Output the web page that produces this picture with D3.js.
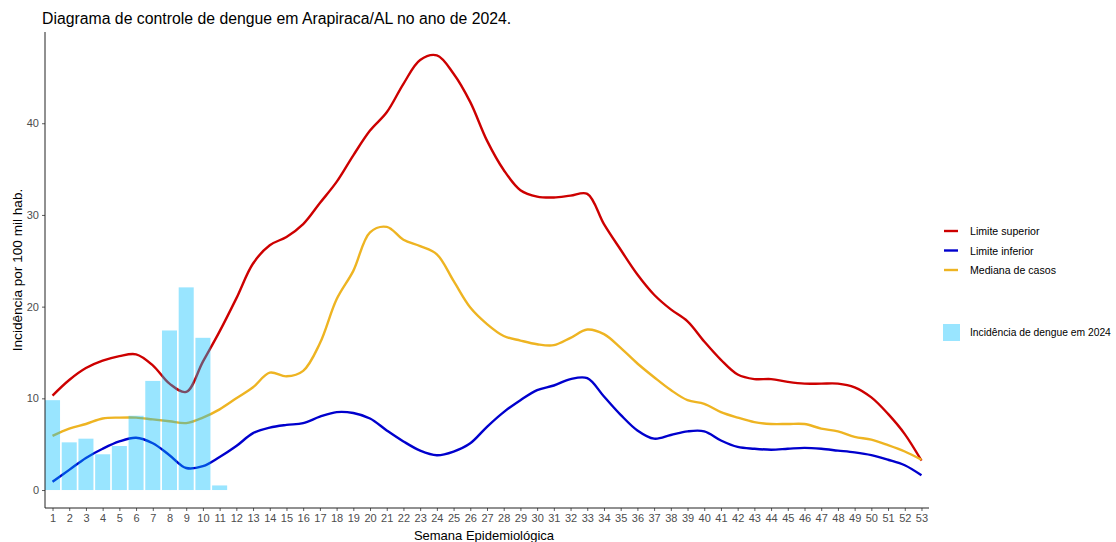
<!DOCTYPE html>
<html><head><meta charset="utf-8">
<script src="https://cdn.jsdelivr.net/npm/d3@7"></script>
<style>
body{margin:0;background:#fff;}
svg{font-family:"Liberation Sans",Arial,sans-serif;}
</style></head>
<body><svg id="c" width="1116" height="542"></svg>
<script>
const weeks = d3.range(1, 54);
const incidence2024 = [9.8,5.2,5.6,3.9,4.8,8.1,11.9,17.4,22.1,16.6,0.5];
const limiteSuperior = [10.3,12.0,13.3,14.1,14.6,14.8,13.6,11.6,10.7,14.0,17.3,20.9,24.7,26.7,27.6,29.0,31.3,33.6,36.5,39.2,41.2,44.3,46.9,47.4,45.4,42.3,38.1,34.9,32.7,32.0,31.9,32.1,32.3,29.0,26.2,23.5,21.3,19.7,18.4,16.2,14.2,12.6,12.1,12.1,11.8,11.6,11.6,11.6,11.2,10.1,8.3,6.1,3.2];
const limiteInferior = [0.9,2.2,3.5,4.5,5.3,5.7,5.1,3.8,2.4,2.6,3.6,4.8,6.2,6.8,7.1,7.3,8.0,8.5,8.4,7.8,6.5,5.3,4.3,3.8,4.2,5.1,6.9,8.5,9.8,10.9,11.4,12.1,12.2,10.2,8.2,6.5,5.6,6.0,6.4,6.4,5.4,4.7,4.5,4.4,4.5,4.6,4.5,4.3,4.1,3.8,3.3,2.7,1.6];
const medianaCasos = [5.9,6.7,7.2,7.8,7.9,7.9,7.7,7.5,7.3,7.9,8.8,10.0,11.2,12.8,12.4,13.0,16.0,20.8,23.9,28.1,28.7,27.3,26.6,25.7,22.8,19.9,18.1,16.8,16.3,15.9,15.8,16.6,17.5,17.0,15.5,13.8,12.3,10.9,9.8,9.4,8.5,7.9,7.4,7.2,7.2,7.2,6.7,6.4,5.8,5.5,4.9,4.2,3.3];
const yTicks = [0,10,20,30,40];
const seriesNames = ["Limite superior","Limite inferior","Mediana de casos"];
const seriesColors = ["#CD0000","#0000CD","#EEB422"];
const barColor = "#00BFFF";
const barLabel = "Incidência de dengue em 2024";

const svg = d3.select("#c");
const L = 45, R = 929, T = 32, B = 508;
const x = d3.scaleLinear().domain([0.55, 53.45]).range([L, R]);
const y = d3.scaleLinear().domain([-1.96, 49.95]).range([B, T]);

// lines
const line = d3.line().x((d,i)=>x(weeks[i])).y(d=>y(d)).curve(d3.curveCatmullRom.alpha(0.5));
[limiteSuperior, limiteInferior, medianaCasos].forEach((s,k)=>{
  svg.append("path").attr("d", line(s)).attr("fill","none")
    .attr("stroke", seriesColors[k]).attr("stroke-width",2.4)
    .attr("stroke-linejoin","round").attr("stroke-linecap","butt");
});

// bars
const bw = (x(2)-x(1))*0.9;
svg.append("g").selectAll("rect").data(incidence2024).join("rect")
  .attr("x",(d,i)=>x(weeks[i])-bw/2).attr("width",bw)
  .attr("y",d=>y(d)).attr("height",d=>y(0)-y(d))
  .attr("fill",barColor).attr("fill-opacity",0.4);

// axes
const yAxis = svg.append("g").attr("transform",`translate(${L},0)`)
  .call(d3.axisLeft(y).tickValues(yTicks).tickSize(3).tickPadding(3));
const xAxis = svg.append("g").attr("transform",`translate(0,${B})`)
  .call(d3.axisBottom(x).tickValues(weeks).tickFormat(d3.format("d")).tickSize(3).tickPadding(3));
[yAxis,xAxis].forEach(a=>{
  a.select(".domain").remove();
  a.selectAll(".tick line").attr("stroke","#333").attr("stroke-width",0.8);
  a.selectAll(".tick text").attr("fill","#4D4D4D").style("font-size","11px").style("font-family","'Liberation Sans',Arial,sans-serif");
});
svg.append("line").attr("x1",L).attr("x2",L).attr("y1",T).attr("y2",B).attr("stroke","#222").attr("stroke-width",1);
svg.append("line").attr("x1",L).attr("x2",R).attr("y1",B).attr("y2",B).attr("stroke","#222").attr("stroke-width",1);

// titles
svg.append("text").attr("x",42).attr("y",24).text("Diagrama de controle de dengue em Arapiraca/AL no ano de 2024.")
  .style("font-size","15.8px").attr("fill","#000");
svg.append("text").attr("transform",`translate(22,${(T+B)/2}) rotate(-90)`).attr("text-anchor","middle")
  .text("Incidência por 100 mil hab.").style("font-size","13.6px").attr("fill","#000");
svg.append("text").attr("x",(L+R)/2 - 3).attr("y",540).attr("text-anchor","middle")
  .text("Semana Epidemiológica").style("font-size","13px").attr("fill","#000");

// legend
const lg = svg.append("g");
seriesNames.forEach((n,i)=>{
  const yy = 231 + i*19.5;
  lg.append("line").attr("x1",944).attr("x2",958).attr("y1",yy).attr("y2",yy)
    .attr("stroke",seriesColors[i]).attr("stroke-width",2.4);
  lg.append("text").attr("x",970).attr("y",yy+4).text(n).style("font-size","10.6px").attr("fill","#000");
});
lg.append("rect").attr("x",943).attr("y",324).attr("width",17).attr("height",17)
  .attr("fill",barColor).attr("fill-opacity",0.4);
lg.append("text").attr("x",970).attr("y",336).text(barLabel).style("font-size","10.3px").attr("fill","#000");
</script></body></html>
